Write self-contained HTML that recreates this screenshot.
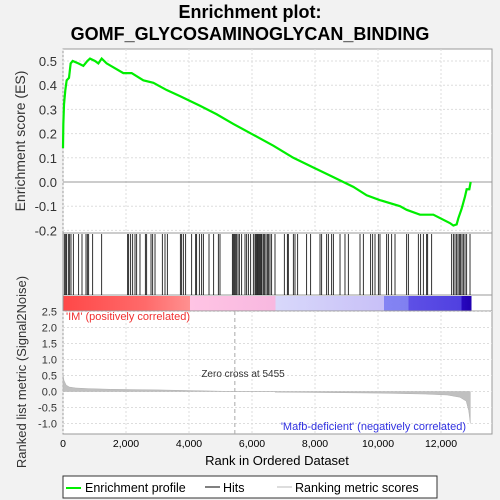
<!DOCTYPE html>
<html><head><meta charset="utf-8"><style>
body{margin:0;background:#f2f2f2;}
svg{display:block;font-family:"Liberation Sans","DejaVu Sans",sans-serif;}
</style></head><body>
<svg id="c" width="500" height="500" viewBox="0 0 500 500" xmlns="http://www.w3.org/2000/svg">
<defs>
<linearGradient id="cb" x1="0" x2="1" y1="0" y2="0">
<stop offset="0" stop-color="#ff4848"/><stop offset="0.2" stop-color="#ff6a6a"/><stop offset="0.31" stop-color="#ff9090"/>
<stop offset="0.31" stop-color="#ffc4e4"/><stop offset="0.52" stop-color="#f8b8e0"/>
<stop offset="0.52" stop-color="#d8d8fa"/><stop offset="0.785" stop-color="#c8c0f8"/>
<stop offset="0.785" stop-color="#8484f4"/><stop offset="0.845" stop-color="#8080f0"/>
<stop offset="0.845" stop-color="#5e50e6"/><stop offset="0.975" stop-color="#5040e0"/>
<stop offset="0.975" stop-color="#2808c0"/><stop offset="1" stop-color="#2000b0"/>
</linearGradient>
</defs>
<text x="250" y="18" font-size="18" font-weight="bold" text-anchor="middle">Enrichment plot:</text>
<text x="250" y="40" font-size="18" font-weight="bold" text-anchor="middle">GOMF_GLYCOSAMINOGLYCAN_BINDING</text>
<rect x="63" y="49" width="429" height="184" fill="#fff" stroke="#999"/>
<rect x="63" y="233" width="429" height="62" fill="#fff" stroke="#999"/>
<rect x="63" y="295" width="429" height="16" fill="#fff" stroke="#999"/>
<rect x="63.5" y="296" width="408" height="15" fill="url(#cb)"/>
<rect x="63" y="311" width="429" height="123" fill="#fff" stroke="#999"/>
<g id="grid"></g><g id="hits"></g><g id="metric"></g><g id="es"></g><g id="axes"></g>
<text x="66" y="320" font-size="11" fill="#f03030">'IM' (positively correlated)</text>
<text x="466" y="430" font-size="11" fill="#3030e0" text-anchor="end">'Mafb-deficient' (negatively correlated)</text>
<text x="243" y="377" font-size="10" fill="#333" text-anchor="middle">Zero cross at 5455</text>
<text x="277" y="465" font-size="13" text-anchor="middle">Rank in Ordered Dataset</text>
<text transform="translate(25,141) rotate(-90)" font-size="14" text-anchor="middle" fill="#333">Enrichment score (ES)</text>
<text transform="translate(26,372) rotate(-90)" font-size="13" text-anchor="middle" fill="#333">Ranked list metric (Signal2Noise)</text>
<g>
<rect x="63" y="476" width="374" height="22" fill="#fff" stroke="#333"/>
<line x1="66" y1="488" x2="81" y2="488" stroke="#00ee00" stroke-width="2"/>
<text x="85" y="492" font-size="12.5">Enrichment profile</text>
<line x1="205" y1="487" x2="220" y2="487" stroke="#000"/>
<text x="223" y="492" font-size="12.5">Hits</text>
<line x1="277" y1="487" x2="292" y2="487" stroke="#bbb"/>
<text x="295" y="492" font-size="12.5">Ranking metric scores</text>
</g>
</svg>
<script>
const hitRanks=[42,85,116,169,212,254,328,497,603,730,772,815,942,1228,2053,2085,2148,2212,2286,2339,2444,2614,2656,2794,2847,2921,3153,3238,3312,3725,3767,3820,3894,4085,4212,4243,4328,4402,4455,4635,4783,4931,4984,5376,5407,5439,5471,5513,5556,5598,5672,5778,5831,5884,5958,6042,6095,6127,6159,6190,6222,6254,6286,6317,6360,6402,6444,6487,6529,6571,6624,6730,7026,7122,7153,7312,7365,7450,7735,7862,8159,8212,8370,8423,8529,8582,8794,8952,9058,9429,9534,9767,9831,9905,10011,10063,10275,10328,10434,10540,10910,10963,11280,11354,11439,11545,11577,11704,12339,12392,12444,12497,12540,12582,12624,12667,12709,12762,12815,12921];
const esRanks=[0,11,32,74,116,190,243,307,487,646,772,857,1016,1122,1228,1386,1915,2180,2550,2868,3291,3714,4349,4878,5407,6042,6677,7312,7947,8582,8899,9217,9640,10063,10698,10910,11333,11757,12286,12392,12497,12550,12656,12762,12815,12899,12942];
const esValues=[0.14,0.24,0.32,0.38,0.42,0.43,0.49,0.50,0.49,0.48,0.50,0.51,0.50,0.49,0.51,0.49,0.45,0.45,0.42,0.41,0.38,0.355,0.315,0.28,0.24,0.195,0.15,0.10,0.06,0.02,0.0,-0.02,-0.055,-0.075,-0.10,-0.115,-0.135,-0.135,-0.17,-0.18,-0.175,-0.15,-0.11,-0.06,-0.03,-0.03,0.0];
const metricRanks=[0,30,100,200,400,800,1500,3000,4500,5455,5455,6730,6730,8000,10000,11500,12200,12600,12800,12880,12930];
const metricValues=[0.55,0.35,0.2,0.14,0.11,0.09,0.07,0.05,0.02,0.0,0.0,0.0,-0.02,-0.03,-0.05,-0.08,-0.11,-0.18,-0.3,-0.6,-1.0];
const xTicks=[0,2000,4000,6000,8000,10000,12000];
const esTicks=[-0.2,-0.1,0.0,0.1,0.2,0.3,0.4,0.5];
const mTicks=[-1.0,-0.5,0.0,0.5,1.0,1.5,2.0,2.5];
const NS='http://www.w3.org/2000/svg';
const X=r=>63+r*0.0315, YE=v=>182-v*242, YM=v=>391.5-v*32;
function mk(tag,attrs,parent){const e=document.createElementNS(NS,tag);for(const k in attrs)e.setAttribute(k,attrs[k]);document.getElementById(parent).appendChild(e);return e;}
const fmt=n=>n.toLocaleString('en-US');
xTicks.forEach(t=>{
 [[49,233],[311,434]].forEach(([a,b])=>{const l=mk('line',{x1:X(t),x2:X(t),y1:a,y2:b,stroke:'#ddd','stroke-dasharray':'2,2'},'grid');
 
 });
 const tx=mk('text',{x:X(t),y:447,'font-size':10.5,'text-anchor':'middle'},'axes');tx.textContent=fmt(t);
 
 
});
esTicks.forEach(t=>{
 const l=mk('line',{x1:63,x2:492,y1:YE(t),y2:YE(t),stroke:t===0?'#999':'#ddd','stroke-dasharray':t===0?'':'2,2'},'grid');
 
 
 const tx=mk('text',{x:57,y:YE(t)+5,'font-size':13,'text-anchor':'end',fill:'#333'},'axes');tx.textContent=t.toFixed(1);
 
 
});
mTicks.forEach(t=>{
 const l=mk('line',{x1:63,x2:492,y1:YM(t),y2:YM(t),stroke:'#ddd','stroke-dasharray':'2,2'},'grid');
 
 
 const tx=mk('text',{x:57,y:YM(t)+4,'font-size':11,'text-anchor':'end',fill:'#333'},'axes');tx.textContent=t.toFixed(1);
 
 
});
const zl=mk('line',{x1:X(5455),x2:X(5455),y1:311,y2:434,stroke:'#aaa','stroke-dasharray':'4,3'},'grid');


hitRanks.forEach(r=>{const l=mk('line',{x1:X(r),x2:X(r),y1:234,y2:295,stroke:'#000','stroke-width':0.8},'hits');
 
 });
let d='M'+X(0)+','+YM(0);
metricRanks.forEach((r,i)=>{d+=' L'+X(r)+','+YM(metricValues[i]);});
d+=' L'+X(metricRanks[metricRanks.length-1])+','+YM(0)+' Z';
const ma=mk('path',{d:d,fill:'#c0c0c0',stroke:'#b0b0b0','stroke-width':0.5},'metric');


const pts=esRanks.map((r,i)=>X(r)+','+YE(esValues[i])).join(' ');
const es=mk('polyline',{points:pts,fill:'none',stroke:'#00ee00','stroke-width':2.2},'es');


</script>
</body></html>
